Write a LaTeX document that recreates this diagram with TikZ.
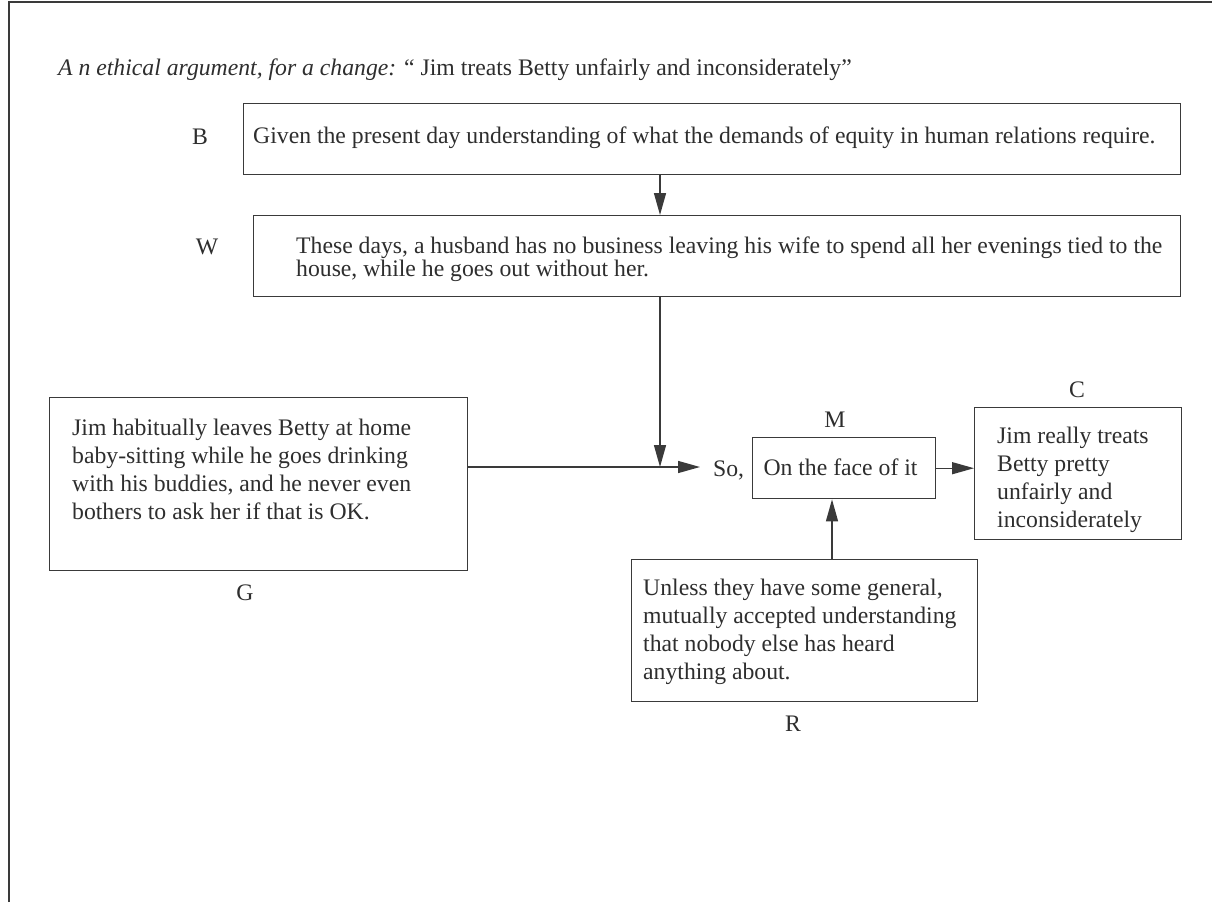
\documentclass[tikz,border=0pt]{standalone}
\usepackage{fontspec}
\setmainfont{Liberation Serif}
\usetikzlibrary{arrows.meta,calc}
\definecolor{ink}{HTML}{2E2E2E}
\definecolor{edge}{HTML}{3A3A3A}
\begin{document}
\begin{tikzpicture}[x=1pt,y=-1pt,
  every node/.style={text=ink, font=\fontsize{23.7}{28}\selectfont, inner sep=0pt},
  box/.style={draw=edge, line width=1.4pt, anchor=north west, inner sep=0pt},
  txt/.style={anchor=north west, align=left},
  tag/.style={anchor=base},
  arr/.style={draw=edge, line width=1.4pt, -{Triangle[length=22pt,width=12pt]}}]

% page and frame
\fill[white] (0,0) rectangle (1212,902);
\useasboundingbox (0,0) rectangle (1212,902);
\draw[draw=edge, line width=2pt] (8.5,902) -- (8.5,2) -- (1212,2);

% heading
\node[anchor=base west] (title) at (58,75)
  {\textit{A n ethical argument, for a change:} “ Jim treats Betty unfairly and inconsiderately”};

% boxes
\node[box, minimum width=937pt, minimum height=71pt]  (Bbox) at (243,103) {};
\node[box, minimum width=927pt, minimum height=81pt]  (Wbox) at (253,215) {};
\node[box, minimum width=418pt, minimum height=173pt] (Gbox) at (49,397) {};
\node[box, minimum width=183pt, minimum height=61pt]  (Mbox) at (752,437) {};
\node[box, minimum width=207pt, minimum height=132pt] (Cbox) at (974,407) {};
\node[box, minimum width=346pt, minimum height=142pt] (Rbox) at (631,559) {};

% box texts
\node[txt] (Btext) at (253,123.4)
  {\strut Given the present day understanding of what the demands of equity in human relations require.};
\node[txt, font=\fontsize{23.7}{21}\selectfont] (Wtext) at (296,236.3)
  {\strut These days, a husband has no business leaving his wife to spend all her evenings tied to the\\
   house, while he goes out without her.};
\node[txt] (Gtext) at (72,415.4)
  {\strut Jim habitually leaves Betty at home\\baby-sitting while he goes drinking\\
   with his buddies, and he never even\\bothers to ask her if that is OK.};
\node[txt] (Ctext) at (997,423.4)
  {\strut Jim really treats\\Betty pretty\\unfairly and\\inconsiderately};
\node[txt] (Rtext) at (643,575.4)
  {\strut Unless they have some general,\\mutually accepted understanding\\
   that nobody else has heard\\anything about.};
\node[anchor=base] (Mtext) at (840.5,475.5) {On the face of it};

% role letters
\node[tag] (Blab) at (200,144) {B};
\node[tag] (Wlab) at (207,254) {W};
\node[tag] (Glab) at (245,600) {G};
\node[tag] (Mlab) at (835,427) {M};
\node[tag] (Clab) at (1077,397) {C};
\node[tag] (Rlab) at (793,731) {R};
\node[anchor=base west] (so) at (713,476) {So,};

% connectors
\coordinate (j) at (660,467);
\coordinate (rj) at (832,530);
\draw[arr] (Bbox.south -| j) -- (Wbox.north -| j);
\draw[arr] (Wbox.south -| j) -- (j);
\draw[arr] (Gbox.east |- j) -- ($(so.west |- j)+(-13,0)$);
\draw[arr] (Mbox.east) -- (Cbox.west |- Mbox.east);
\draw[arr] (Rbox.north -| rj) -- (Mbox.south -| rj);
\end{tikzpicture}
\end{document}
